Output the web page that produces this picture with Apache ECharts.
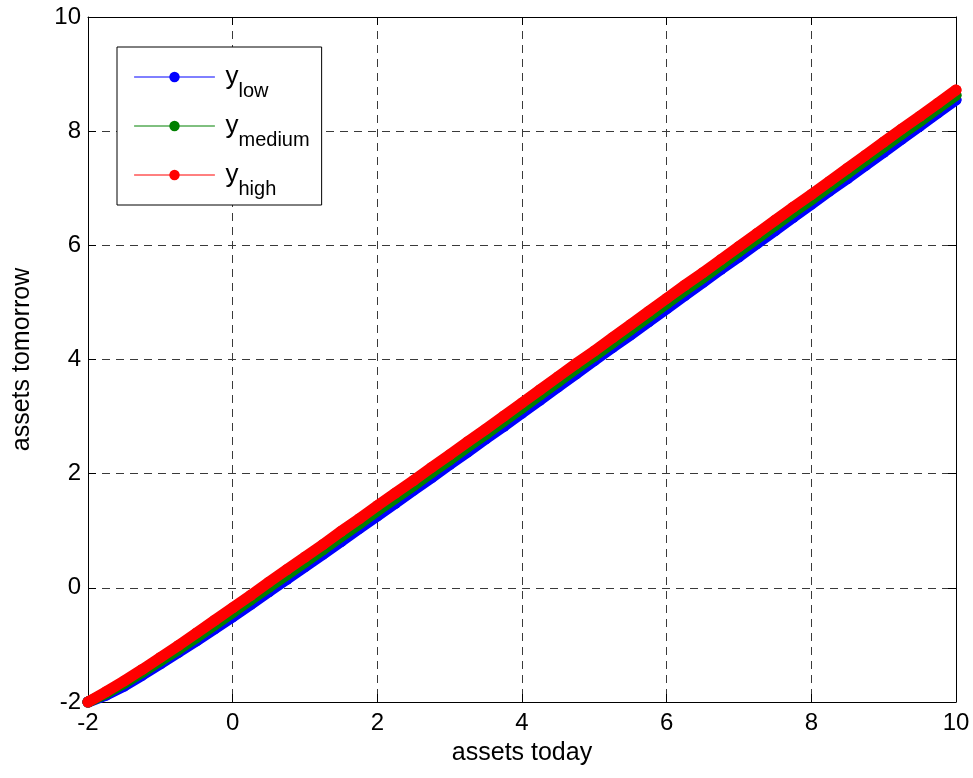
<!DOCTYPE html>
<html>
<head>
<meta charset="utf-8">
<script src="https://cdn.jsdelivr.net/npm/echarts@6/dist/echarts.min.js"></script>
<style>
html,body{margin:0;padding:0;background:#fff;}
#chart{width:973px;height:778px;}
</style>
</head>
<body>
<div id="chart"></div>
<script>
// assets today (grid)
const assetsToday = [-2,-1.75,-1.5,-1.25,-1,-0.75,-0.5,-0.25,0,0.25,0.5,0.75,1,1.25,1.5,1.75,2,2.25,2.5,2.75,3,3.25,3.5,3.75,4,4.25,4.5,4.75,5,5.25,5.5,5.75,6,6.25,6.5,6.75,7,7.25,7.5,7.75,8,8.25,8.5,8.75,9,9.25,9.5,9.75,10];
// assets tomorrow, per income state
const yLow = [-2.00,-1.88,-1.72,-1.53,-1.33,-1.13,-0.93,-0.72,-0.51,-0.29,-0.07,0.15,0.37,0.59,0.81,1.04,1.26,1.48,1.71,1.93,2.16,2.38,2.61,2.83,3.06,3.29,3.52,3.75,3.98,4.21,4.43,4.66,4.89,5.12,5.35,5.58,5.80,6.03,6.26,6.49,6.72,6.95,7.17,7.40,7.63,7.86,8.09,8.32,8.55];
const yMedium = [-2.00,-1.85,-1.67,-1.48,-1.28,-1.08,-0.87,-0.65,-0.43,-0.21,0.01,0.23,0.45,0.67,0.90,1.12,1.35,1.57,1.79,2.02,2.24,2.47,2.69,2.92,3.15,3.38,3.61,3.84,4.06,4.29,4.52,4.75,4.98,5.21,5.43,5.66,5.89,6.12,6.35,6.58,6.80,7.03,7.26,7.49,7.72,7.95,8.17,8.40,8.63];
const yHigh = [-2.00,-1.82,-1.63,-1.43,-1.22,-1.01,-0.79,-0.57,-0.35,-0.13,0.10,0.32,0.54,0.76,0.99,1.21,1.44,1.66,1.88,2.11,2.33,2.56,2.78,3.01,3.24,3.47,3.70,3.93,4.15,4.38,4.61,4.84,5.07,5.30,5.52,5.75,5.98,6.21,6.44,6.67,6.89,7.12,7.35,7.58,7.81,8.04,8.26,8.49,8.72];

const seriesNames = ['y_low','y_medium','y_high'];
const seriesSubs = {'y_low':'low','y_medium':'medium','y_high':'high'};
const seriesColors = ['#0000ff','#008000','#ff0000'];
const xAxisTitle = 'assets today';
const yAxisTitle = 'assets tomorrow';
const axisMin = -2, axisMax = 10, axisStep = 2;

const FONT = 'Liberation Sans, Arial, Helvetica, sans-serif';
const chart = echarts.init(document.getElementById('chart'), null, {renderer:'canvas'});

const allY = [yLow, yMedium, yHigh];
const series = seriesNames.map((n, i) => ({
  name: n,
  type: 'line',
  data: assetsToday.map((x, k) => [x, allY[i][k]]),
  symbol: 'circle',
  symbolSize: 11,
  showAllSymbol: true,
  color: seriesColors[i],
  itemStyle: {color: seriesColors[i]},
  lineStyle: {color: seriesColors[i], width: 11, cap: 'round', join: 'round'},
  emphasis: {disabled: true},
  z: 2 + i
}));

const gridLine = {show: true, lineStyle: {color: '#3a3a3a', type: [8, 6], width: 1}};
const tickStyle = {show: true, inside: true, length: 8, lineStyle: {color: '#000', width: 1}};
const lineStyleAxis = {show: true, onZero: false, lineStyle: {color: '#000', width: 1}};

chart.setOption({
  animation: false,
  backgroundColor: '#fff',
  textStyle: {fontFamily: FONT},
  grid: {left: 88, right: 17, top: 17, bottom: 76, containLabel: false},
  xAxis: [{
    type: 'value', min: axisMin, max: axisMax, interval: axisStep,
    name: xAxisTitle, nameLocation: 'middle', nameGap: 39,
    nameTextStyle: {fontSize: 25, color: '#000', fontFamily: FONT},
    axisLine: lineStyleAxis, axisTick: tickStyle,
    axisLabel: {fontSize: 24, color: '#000', margin: 9, fontFamily: FONT},
    splitLine: gridLine
  }, {
    type: 'value', position: 'top', min: axisMin, max: axisMax, interval: axisStep,
    axisLine: lineStyleAxis, axisTick: tickStyle, axisLabel: {show: false}, splitLine: {show: false}
  }],
  yAxis: [{
    type: 'value', min: axisMin, max: axisMax, interval: axisStep,
    name: yAxisTitle, nameLocation: 'middle', nameGap: 53, nameRotate: 90,
    nameTextStyle: {fontSize: 25, color: '#000', fontFamily: FONT},
    axisLine: lineStyleAxis, axisTick: tickStyle,
    axisLabel: {fontSize: 24, color: '#000', margin: 7, fontFamily: FONT},
    splitLine: gridLine
  }, {
    type: 'value', position: 'right', min: axisMin, max: axisMax, interval: axisStep,
    axisLine: lineStyleAxis, axisTick: tickStyle, axisLabel: {show: false}, splitLine: {show: false}
  }],
  legend: {
    orient: 'vertical', left: 117, top: 47,
    padding: [17, 12, 6, 17],
    itemWidth: 80, itemHeight: 13, itemGap: 12,
    backgroundColor: '#fff', borderColor: '#000', borderWidth: 1, borderRadius: 0,
    lineStyle: {width: 1},
    data: seriesNames,
    formatter: n => '{y|y}{s|' + seriesSubs[n] + '}',
    textStyle: {
      color: '#000', fontFamily: FONT,
      rich: {
        y: {fontSize: 26, lineHeight: 26, verticalAlign: 'top', padding: [0, 0, 0, 6], fontFamily: FONT, color: '#000'},
        s: {fontSize: 20, lineHeight: 20, verticalAlign: 'top', padding: [17, 0, 0, 0], fontFamily: FONT, color: '#000'}
      }
    },
    selectedMode: false
  },
  series: series
});
</script>
</body>
</html>
